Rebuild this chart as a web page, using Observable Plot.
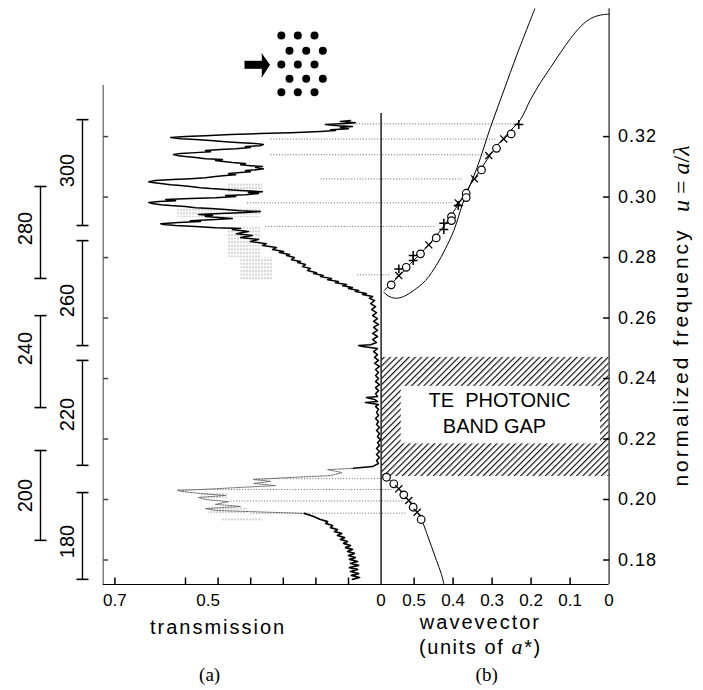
<!DOCTYPE html>
<html><head><meta charset="utf-8">
<script src="https://cdn.jsdelivr.net/npm/d3@7"></script>
<script src="https://cdn.jsdelivr.net/npm/@observablehq/plot@0.6"></script>
<style>body{margin:0;background:#fff}#chart{width:703px;height:690px}</style>
</head><body><div id="chart"></div>
<script>
// ---------- scale anchors ----------
const KMAX = 0.5846;          // wavevector at the left edge of panel (b)
const UMIN = 0.1719, UMAX = 0.365;
const LEFT_S = -0.7166;       // left end of the transmission axis

// ---------- axis ticks ----------
const freqTicks = [0.18, 0.20, 0.22, 0.24, 0.26, 0.28, 0.30, 0.32];
const transTicks = [0.7, 0.6, 0.5, 0.4, 0.3, 0.2, 0.1];
const transLabels = [0.7, 0];
const waveTicks = [0.5, 0.4, 0.3, 0.2, 0.1];
const waveLabels = [0.5, 0.4, 0.3, 0.2, 0.1, 0];

// ---------- frequency (GHz) scan bars on the far left ----------
const ghzBarsA = [
  {label: "280", lo: 0.2731, hi: 0.3035, mid: 0.2896},
  {label: "240", lo: 0.2304, hi: 0.2608, mid: 0.2499},
  {label: "200", lo: 0.1865, hi: 0.2162, mid: 0.2013}
];
const ghzBarsB = [
  {label: "300", lo: 0.2906, hi: 0.3256, mid: 0.3088},
  {label: "260", lo: 0.2509, hi: 0.2856, mid: 0.2658},
  {label: "220", lo: 0.2113, hi: 0.2460, mid: 0.2281},
  {label: "180", lo: 0.1736, hi: 0.2023, mid: 0.1861}
];

// ---------- transmission trace [u, transmission] ----------
const traceBottom = [
  [0.1736,0.088],[0.1742,0.066],[0.1749,0.091],[0.1755,0.069],[0.1762,0.094],[0.1769,0.072],[0.1775,0.097],
  [0.1782,0.069],[0.1789,0.094],[0.1795,0.072],[0.1802,0.097],[0.1808,0.079],[0.1815,0.100],[0.1822,0.082],
  [0.1828,0.103],[0.1835,0.088],[0.1841,0.109],[0.1848,0.094],[0.1855,0.115],[0.1861,0.103],[0.1868,0.125],
  [0.1874,0.112],[0.1881,0.134],[0.1888,0.121],[0.1894,0.143],[0.1901,0.134],[0.1907,0.155],[0.1914,0.149],
  [0.1921,0.170],[0.1927,0.164],[0.1934,0.186],[0.1944,0.207],[0.1954,0.235]
];
const traceDotted = [
  [0.1954,0.235],[0.1960,0.401],[0.1964,0.508],[0.1970,0.539],[0.1977,0.431],[0.1984,0.508],[0.1993,0.468],
  [0.2000,0.539],[0.2007,0.560],[0.2013,0.477],[0.2020,0.554],[0.2027,0.607],[0.2030,0.611],[0.2033,0.554],
  [0.2040,0.431],[0.2046,0.324],[0.2053,0.391],[0.2060,0.339],[0.2066,0.391],[0.2073,0.278],[0.2079,0.155],
  [0.2089,0.120],[0.2099,0.164],[0.2103,0.085]
];
const traceMain = [
  [0.2103,0.085],[0.2109,0.026],[0.2119,0.008],[0.2129,0.014],[0.2139,0.005],[0.2149,0.014],[0.2159,0.005],
  [0.2169,0.014],[0.2179,0.005],[0.2188,0.011],[0.2198,0.002],[0.2208,0.011],[0.2218,0.005],[0.2228,0.014],
  [0.2238,0.005],[0.2248,0.014],[0.2258,0.008],[0.2268,0.017],[0.2278,0.008],[0.2288,0.014],[0.2298,0.008],
  [0.2308,0.017],[0.2314,0.008],[0.2321,0.048],[0.2324,0.011],[0.2331,0.020],[0.2337,0.045],[0.2341,0.011],
  [0.2350,0.017],[0.2360,0.008],[0.2370,0.017],[0.2380,0.005],[0.2390,0.017],[0.2400,0.008],[0.2410,0.017],
  [0.2420,0.008],[0.2430,0.017],[0.2440,0.005],[0.2450,0.020],[0.2460,0.008],[0.2470,0.020],[0.2479,0.011],
  [0.2489,0.023],[0.2499,0.011],[0.2506,0.057],[0.2509,0.069],[0.2512,0.032],[0.2519,0.014],[0.2529,0.026],
  [0.2539,0.011],[0.2549,0.026],[0.2559,0.011],[0.2569,0.023],[0.2579,0.008],[0.2589,0.023],[0.2598,0.011],
  [0.2608,0.026],[0.2618,0.014],[0.2628,0.029],[0.2638,0.017],[0.2648,0.032],[0.2658,0.020],
  [0.2665,0.036],[0.2671,0.026],[0.2678,0.057],[0.2681,0.045],[0.2688,0.079],[0.2691,0.069],[0.2698,0.100],
  [0.2701,0.088],[0.2707,0.118],[0.2711,0.106],[0.2717,0.140],[0.2721,0.131],[0.2727,0.164],[0.2731,0.152],
  [0.2737,0.186],[0.2741,0.177],[0.2747,0.207],[0.2750,0.198],[0.2757,0.226],[0.2764,0.217],[0.2770,0.241],
  [0.2777,0.232],[0.2784,0.256],[0.2787,0.247],[0.2793,0.275],[0.2800,0.266],[0.2807,0.290],[0.2810,0.281],
  [0.2817,0.312],[0.2820,0.299],[0.2827,0.333],[0.2833,0.321],[0.2840,0.364],[0.2846,0.352],[0.2853,0.401],
  [0.2860,0.376],[0.2866,0.431],[0.2873,0.395],[0.2879,0.444],[0.2886,0.407],[0.2893,0.456],[0.2896,0.431],
  [0.2899,0.508],[0.2903,0.569],[0.2906,0.614],[0.2909,0.631],[0.2912,0.635],[0.2916,0.610],[0.2919,0.554],
  [0.2922,0.585],[0.2926,0.508],[0.2929,0.456],[0.2932,0.487],[0.2936,0.539],[0.2939,0.517],[0.2942,0.560],
  [0.2946,0.493],[0.2949,0.416],[0.2952,0.370],[0.2955,0.431],[0.2959,0.477],[0.2962,0.523],[0.2965,0.569],
  [0.2969,0.600],[0.2972,0.621],[0.2975,0.635],[0.2979,0.647],[0.2982,0.652],[0.2985,0.638],[0.2988,0.614],
  [0.2992,0.628],[0.2995,0.585],[0.2998,0.508],[0.3002,0.446],[0.3005,0.477],[0.3008,0.416],[0.3012,0.376],
  [0.3015,0.407],[0.3018,0.364],[0.3022,0.431],[0.3025,0.477],[0.3028,0.523],[0.3031,0.554],[0.3035,0.585],
  [0.3038,0.607],[0.3041,0.621],[0.3045,0.635],[0.3048,0.647],[0.3051,0.652],[0.3055,0.643],[0.3058,0.618],
  [0.3061,0.585],[0.3064,0.539],[0.3068,0.508],[0.3071,0.477],[0.3074,0.446],[0.3078,0.468],[0.3081,0.431],
  [0.3084,0.401],[0.3088,0.416],[0.3091,0.376],[0.3094,0.361],[0.3098,0.385],[0.3101,0.364],[0.3104,0.401],
  [0.3107,0.431],[0.3111,0.416],[0.3114,0.456],[0.3117,0.477],[0.3121,0.508],[0.3124,0.487],[0.3127,0.539],
  [0.3131,0.569],[0.3134,0.600],[0.3137,0.610],[0.3141,0.617],[0.3144,0.607],[0.3147,0.569],[0.3150,0.523],
  [0.3154,0.539],[0.3157,0.493],[0.3160,0.446],[0.3164,0.401],[0.3167,0.416],[0.3170,0.370],[0.3174,0.361],
  [0.3177,0.385],[0.3180,0.431],[0.3183,0.477],[0.3187,0.523],[0.3190,0.569],[0.3193,0.607],[0.3197,0.621],
  [0.3200,0.600],[0.3203,0.539],[0.3207,0.462],[0.3210,0.370],[0.3213,0.278],[0.3217,0.186],[0.3220,0.140],
  [0.3223,0.155],[0.3226,0.100],[0.3230,0.125],[0.3233,0.088],[0.3236,0.131],[0.3240,0.171],[0.3243,0.109],
  [0.3246,0.079],[0.3250,0.125],[0.3253,0.094]
];
// grey "comb" patches of the trace: [u1, u2, t1, t2]
const combPatches = [
  [0.3015,0.3045,0.364,0.471],[0.2932,0.2965,0.370,0.611],[0.2800,0.2899,0.370,0.470],
  [0.2724,0.2800,0.330,0.430],[0.2003,0.2020,0.468,0.554],[0.1947,0.1973,0.410,0.529],
  [0.1924,0.1937,0.364,0.487]
];
// dotted guide lines: [u, transmission start, wavevector end]
const guides = [
  [0.3242,0.085,0.2315],[0.3192,0.339,0.2913],[0.3140,0.339,0.3126],[0.3060,0.186,0.3767],
  [0.2981,0.411,0.4023],[0.2903,0.355,0.4451],[0.2743,0.073,0.5605],
  [0.2069,0.391,0.5733],[0.2033,0.611,0.5528],[0.1995,0.462,0.5272],[0.1955,0.401,0.5195]
];

// ---------- photonic bands [wavevector, u] ----------
const band1 = [
  [0.5777,0.26853],[0.5656,0.26727],[0.5477,0.26655],[0.5272,0.26711],[0.5015,0.26909],[0.4708,0.2724],
  [0.4408,0.27792],[0.4195,0.28298],[0.3982,0.28893],[0.3726,0.29884],[0.3382,0.30985],[0.3041,0.32308],
  [0.2700,0.33521],[0.2356,0.34734],[0.1905,0.36222]
];
const band2 = [
  [0.5759,0.26926],[0.5554,0.27174],[0.5349,0.27438],[0.5092,0.27802],[0.4836,0.28132],[0.4579,0.28496],
  [0.4323,0.28893],[0.4067,0.29355],[0.3810,0.29884],[0.3554,0.30413],[0.3297,0.30909],[0.3041,0.31405],
  [0.2785,0.31835],[0.2528,0.32198],[0.2272,0.32562],[0.2015,0.33223],[0.1759,0.33785],[0.1503,0.34281],
  [0.1246,0.34777],[0.0990,0.3524],[0.0733,0.35636],[0.0477,0.35901],[0.0221,0.36017],[0,0.3605]
];
const band3 = [
  [0.5810,0.20826],[0.5708,0.20727],[0.5528,0.20529],[0.5400,0.20364],[0.5272,0.20165],[0.5144,0.19967],
  [0.5015,0.19736],[0.4913,0.1957],[0.4810,0.19339],[0.4682,0.18909],[0.4554,0.18446],[0.4426,0.17984],
  [0.4297,0.17521],[0.4233,0.1719]
];
// measured points [wavevector, u]
const pointsO = [
  [0.5587,0.27098],[0.5203,0.27679],[0.4836,0.28123],[0.4433,0.28651],[0.4041,0.29355],[0.4041,0.29223],
  [0.3664,0.30126],[0.3664,0.29984],[0.3272,0.30899],[0.2887,0.31613],[0.2510,0.32089],
  [0.5708,0.20737],[0.5521,0.20519],[0.5264,0.20155],[0.5023,0.19745],[0.4818,0.19339]
];
const pointsX = [
  [0.5392,0.27405],[0.4623,0.2842],[0.3869,0.29808],[0.3451,0.30602],[0.3085,0.31372],[0.2700,0.31924],
  [0.5392,0.20354],[0.5136,0.19967],[0.4921,0.1958]
];
const pointsPlus = [
  [0.5392,0.27626],[0.5023,0.28066],[0.5023,0.27901],[0.4238,0.29134],[0.4238,0.28926],[0.3869,0.29719],
  [0.2315,0.32397]
];

// ---------- band gap ----------
const gapBand = {u1: 0.2076, u2: 0.2470, k1: 0.5818, k2: 0};
const gapBox = {u1: 0.2184, u2: 0.2374, k1: 0.533, k2: 0.022};
const gapText = [{text: "TE\u00a0\u00a0PHOTONIC", k: 0.281, u: 0.2326}, {text: "BAND GAP", k: 0.2938, u: 0.2241}];

// ---------- lattice sketch and arrow ----------
const latticeRowU = [0.3534, 0.3484, 0.3438, 0.3391, 0.3347];
const latticeColT = [[0.306, 0.2555, 0.2043], [0.281, 0.2298, 0.1788]];
const arrowShaft = [[0.419, 0.34374], [0.363, 0.34374]];
const arrowHead = [[0.366, 0.3473], [0.3423, 0.34374], [0.366, 0.3398]];

// ---------- helpers ----------
const sT = t => -t;            // transmission -> shared x
const sK = k => KMAX - k;      // wavevector  -> shared x
const tickLeft = {draw(c) { c.moveTo(-6, 0); c.lineTo(0, 0); }};
const tickRight = {draw(c) { c.moveTo(0, 0); c.lineTo(5, 0); }};
const tickUp = {draw(c) { c.moveTo(0, 0); c.lineTo(0, -7); }};
const capH = {draw(c) { c.moveTo(-6, 0); c.lineTo(6, 0); }};
const lattice = latticeRowU.flatMap((u, i) => latticeColT[i % 2].map(t => ({u, t})));
const SERIF = "'Liberation Serif', 'Times New Roman', serif";

const chart = Plot.plot({
  width: 703, height: 690,
  marginLeft: 0, marginRight: 0, marginTop: 0, marginBottom: 0,
  style: {fontFamily: "'Liberation Sans', Arial, sans-serif", background: "white", color: "black"},
  x: {type: "linear", domain: [-0.7, -0.6, 0, KMAX], range: [114.4, 185, 380.6, 608.6], axis: null},
  y: {domain: [UMIN, UMAX], range: [584, 0], axis: null},
  marks: [
    // band gap
    Plot.rect([gapBand], {x1: d => sK(d.k1), x2: d => sK(d.k2), y1: "u1", y2: "u2", fill: "url(#diag)"}),
    Plot.rect([gapBox], {x1: d => sK(d.k1), x2: d => sK(d.k2), y1: "u1", y2: "u2", fill: "white"}),
    Plot.text(gapText, {x: d => sK(d.k), y: "u", text: "text", fontSize: 20}),
    // comb patches of the trace
    Plot.rect(combPatches, {x1: d => sT(d[2]), x2: d => sT(d[3]), y1: d => d[0], y2: d => d[1], fill: "url(#comb)"}),
    // guide lines
    Plot.link(guides, {x1: d => sT(d[1]), x2: d => sK(d[2]), y1: d => d[0], y2: d => d[0],
      stroke: "#666", strokeWidth: 1, strokeDasharray: "1,1.8"}),
    // trace
    Plot.line(traceDotted, {x: d => sT(d[1]), y: d => d[0], stroke: "#666", strokeWidth: 1, strokeDasharray: "1.5,1.2"}),
    Plot.line(traceBottom, {x: d => sT(d[1]), y: d => d[0], stroke: "black", strokeWidth: 1.7}),
    Plot.line(traceMain, {x: d => sT(d[1]), y: d => d[0], stroke: "black", strokeWidth: 1.5}),
    // frame lines
    Plot.ruleY([UMIN], {x1: LEFT_S, x2: KMAX, stroke: "black", strokeWidth: 1.2}),
    Plot.ruleX([LEFT_S], {y1: UMIN, y2: 0.3369, stroke: "#444", strokeWidth: 1}),
    Plot.ruleX([0], {y1: UMIN, y2: 0.3276, stroke: "black", strokeWidth: 1.3}),
    Plot.ruleX([KMAX], {y1: UMIN, y2: 0.3623, stroke: "#333", strokeWidth: 1.3}),
    // ticks
    Plot.dot(freqTicks, {x: KMAX, y: d => d, symbol: tickLeft, stroke: "black", fill: "none"}),
    Plot.dot(freqTicks, {x: LEFT_S, y: d => d, symbol: tickRight, stroke: "#444", fill: "none"}),
    Plot.dot(transTicks, {x: d => sT(d), y: UMIN, symbol: tickUp, stroke: "black", fill: "none"}),
    Plot.dot(waveTicks, {x: d => sK(d), y: UMIN, symbol: tickUp, stroke: "black", fill: "none"}),
    // tick labels
    Plot.text(freqTicks, {x: KMAX, y: d => d, text: d => d.toFixed(2), dx: 9, textAnchor: "start", fontSize: 18}),
    Plot.text(transLabels, {x: d => sT(d), y: UMIN, text: d => String(d), dy: 16, fontSize: 17}),
    Plot.text([0.5], {x: d => sT(d), y: UMIN, text: d => String(d), dy: 16, dx: -10, fontSize: 17}),
    Plot.text(waveLabels, {x: d => sK(d), y: UMIN, text: d => String(d), dy: 16, fontSize: 17}),
    // axis titles
    Plot.text(["transmission"], {x: sT(0.5), y: UMIN, text: d => d, dy: 43, fontSize: 20}),
    Plot.text(["wavevector"], {x: sK(0.33), y: UMIN, text: d => d, dy: 38, fontSize: 20}),
    Plot.text(["(units of a*)"], {x: sK(0.33), y: UMIN, text: d => d, dy: 63, fontSize: 20}),
    Plot.text(["(a)"], {x: sT(0.526), y: UMIN, text: d => d, dy: 90, fontSize: 19, fontFamily: SERIF}),
    Plot.text(["(b)"], {x: sK(0.314), y: UMIN, text: d => d, dy: 90, fontSize: 19, fontFamily: SERIF}),
    Plot.text(["normalized frequency"], {x: KMAX, y: 0.2471, text: d => d, dx: 72, rotate: -90, fontSize: 21}),
    Plot.text(["u = a/λ"], {x: KMAX, y: 0.3061, text: d => d, dx: 72, rotate: -90, fontSize: 24, fontFamily: SERIF}),
    // GHz scan bars
    Plot.link(ghzBarsA, {x1: LEFT_S, x2: LEFT_S, y1: "lo", y2: "hi", dx: -62.7, stroke: "black", strokeWidth: 1.4}),
    Plot.dot(ghzBarsA.flatMap(d => [d.lo, d.hi]), {x: LEFT_S, y: d => d, dx: -62.7, symbol: capH, stroke: "black", strokeWidth: 1.6, fill: "none"}),
    Plot.text(ghzBarsA, {x: LEFT_S, y: "mid", text: "label", dx: -78, rotate: -90, fontSize: 20}),
    Plot.link(ghzBarsB, {x1: LEFT_S, x2: LEFT_S, y1: "lo", y2: "hi", dx: -20.7, stroke: "black", strokeWidth: 1.4}),
    Plot.dot(ghzBarsB.flatMap(d => [d.lo, d.hi]), {x: LEFT_S, y: d => d, dx: -20.7, symbol: capH, stroke: "black", strokeWidth: 1.6, fill: "none"}),
    Plot.text(ghzBarsB, {x: LEFT_S, y: "mid", text: "label", dx: -35.5, rotate: -90, fontSize: 20}),
    // bands
    Plot.line(band1, {x: d => sK(d[0]), y: d => d[1], curve: "catmull-rom", stroke: "black", strokeWidth: 1}),
    Plot.line(band2, {x: d => sK(d[0]), y: d => d[1], curve: "catmull-rom", stroke: "black", strokeWidth: 1}),
    Plot.line(band3, {x: d => sK(d[0]), y: d => d[1], curve: "catmull-rom", stroke: "black", strokeWidth: 1}),
    // measured points
    Plot.dot(pointsO, {x: d => sK(d[0]), y: d => d[1], r: 3.8, stroke: "black", fill: "white", strokeWidth: 1.2}),
    Plot.dot(pointsX, {x: d => sK(d[0]), y: d => d[1], r: 3.3, symbol: "times", stroke: "black", strokeWidth: 1.3}),
    Plot.dot(pointsPlus, {x: d => sK(d[0]), y: d => d[1], r: 3, symbol: "plus", stroke: "black", strokeWidth: 1.5}),
    // lattice sketch and arrow
    Plot.dot(lattice, {x: d => sT(d.t), y: "u", r: 4, fill: "black"}),
    Plot.line(arrowShaft, {x: d => sT(d[0]), y: d => d[1], stroke: "black", strokeWidth: 8, strokeLinecap: "butt"}),
    Plot.line(arrowHead, {x: d => sT(d[0]), y: d => d[1], stroke: "black", fill: "black", strokeWidth: 1})
  ]
});

// ---------- patterns ----------
const NS = "http://www.w3.org/2000/svg";
function el(name, attrs, parent) {
  const e = document.createElementNS(NS, name);
  for (const k in attrs) e.setAttribute(k, attrs[k]);
  if (parent) parent.appendChild(e);
  return e;
}
const defs = el("defs", {});
const pd = el("pattern", {id: "diag", width: 4.4, height: 4.4, patternUnits: "userSpaceOnUse", patternTransform: "rotate(45)"}, defs);
el("line", {x1: 0.6, y1: 0, x2: 0.6, y2: 4.4, stroke: "#000", "stroke-width": 1.1}, pd);
const pc = el("pattern", {id: "comb", width: 3, height: 3.6, patternUnits: "userSpaceOnUse"}, defs);
el("line", {x1: 1, y1: 0, x2: 1, y2: 2, stroke: "#8a8a8a", "stroke-width": 0.7}, pc);
chart.insertBefore(defs, chart.firstChild);

// ---------- typographic touches ----------
for (const t of chart.querySelectorAll("text")) {
  const s = t.textContent;
  if (s === "transmission" || s === "wavevector") t.setAttribute("letter-spacing", "2");
  if (s === "normalized frequency") t.setAttribute("letter-spacing", "2.9");
  if (s === "(units of a*)") {
    t.setAttribute("letter-spacing", "1.6");
    t.textContent = "";
    t.appendChild(document.createTextNode("(units of "));
    const a = el("tspan", {"font-family": SERIF, "font-style": "italic", "font-size": 22}, t); a.textContent = "a";
    t.appendChild(document.createTextNode("*)"));
  }
  if (s === "u = a/λ") {
    t.textContent = "";
    const u = el("tspan", {"font-style": "italic"}, t); u.textContent = "u";
    t.appendChild(document.createTextNode(" = "));
    const a = el("tspan", {"font-style": "italic"}, t); a.textContent = "a";
    t.appendChild(document.createTextNode("/"));
    const l = el("tspan", {"font-style": "italic"}, t); l.textContent = "λ";
  }
  if (/^0\.\d\d$/.test(s)) t.setAttribute("letter-spacing", "1");
}
document.getElementById("chart").appendChild(chart);
</script></body></html>
